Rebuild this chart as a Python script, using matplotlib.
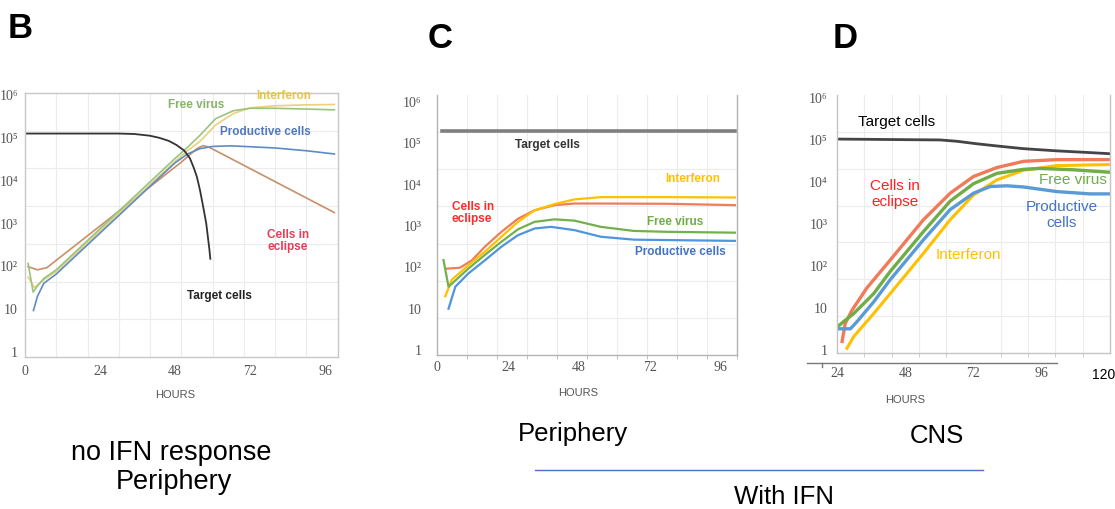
import numpy as np
import matplotlib.pyplot as plt
from matplotlib.lines import Line2D

# ---- data (hours, cell / particle counts) ----
# Panel B: no IFN response, periphery
b_target_h = [0, 10, 20, 30, 35, 40, 43, 46, 48.5, 51, 52.8, 54, 55, 56, 57, 58, 59, 59.3]
b_target_v = [1.26e5, 1.26e5, 1.26e5, 1.26e5, 1.23e5, 1.12e5, 1.0e5, 8.5e4, 6.8e4, 5.0e4,
              3.3e4, 2.0e4, 1.23e4, 6.0e3, 2.5e3, 1.0e3, 250, 150]
b_eclipse_h = [1, 4, 7, 50, 55, 57, 59, 99]
b_eclipse_v = [98, 83, 93, 2.7e4, 5.6e4, 6.6e4, 6.0e4, 1.8e3]
b_virus_h = [1, 2.6, 4, 6, 10, 48, 52, 56, 61, 66.7, 72, 80, 90, 99]
b_virus_v = [117, 25, 35, 52, 83, 3.3e4, 6.0e4, 1.15e5, 2.8e5, 4.3e5, 4.9e5, 4.9e5, 4.7e5, 4.5e5]
b_ifn_h = [1, 3, 6, 10, 48, 52, 56, 61, 66.7, 72, 80, 90, 99]
b_ifn_v = [56, 32, 48, 76, 2.8e4, 5.0e4, 8.3e4, 2.0e5, 3.7e5, 5.0e5, 5.6e5, 5.9e5, 6.0e5]
b_prod_h = [2.7, 4, 6, 10, 48, 52, 56, 60, 66, 72, 80, 90, 99]
b_prod_v = [9.3, 20, 40, 66, 2.6e4, 4.2e4, 5.6e4, 6.3e4, 6.5e4, 6.2e4, 5.8e4, 5.0e4, 4.2e4]

# Panel C: with IFN, periphery
c_target_h = [1.7, 100.8]
c_target_v = [2.0e5, 2.0e5]
c_eclipse_h = [3.4, 7.8, 11.8, 16.2, 21.8, 27.4, 33, 39.8, 46.5, 55.4, 77.8, 100.8]
c_eclipse_v = [93, 98, 148, 316, 724, 1.5e3, 2.4e3, 3.2e3, 3.5e3, 3.5e3, 3.45e3, 3.2e3]
c_ifn_h = [2.8, 5.0, 10.6, 16.2, 21.8, 27.4, 33, 39.8, 46.5, 55.4, 77.8, 100.8]
c_ifn_v = [20, 50, 112, 240, 550, 1.26e3, 2.4e3, 3.4e3, 4.4e3, 5.0e3, 5.0e3, 4.9e3]
c_virus_h = [2.2, 3.9, 10.6, 16.2, 21.8, 27.4, 33, 39.8, 46.5, 55.4, 66.6, 77.8, 100.8]
c_virus_v = [150, 34, 93, 200, 417, 832, 1.26e3, 1.45e3, 1.35e3, 955, 760, 724, 690]
c_prod_h = [3.9, 6.2, 10.6, 16.2, 21.8, 27.4, 33, 38.6, 46.5, 55.4, 66.6, 77.8, 100.8]
c_prod_v = [10, 34, 71, 148, 316, 600, 870, 955, 795, 550, 468, 457, 437]

# Panel D: with IFN, CNS
d_target_h = [24, 60.3, 66.2, 73.2, 80.2, 89.6, 101.3, 113, 120]
d_target_v = [1.05e5, 1.0e5, 9.3e4, 8.1e4, 7.2e4, 6.2e4, 5.5e4, 5.0e4, 4.7e4]
d_eclipse_h = [25.8, 26.9, 29.3, 34.5, 42.7, 54.4, 63.8, 72, 80.2, 89.6, 101.3, 120]
d_eclipse_v = [1.6, 4.3, 8.9, 30, 138, 1.26e3, 5.4e3, 1.35e4, 2.2e4, 3.1e4, 3.4e4, 3.4e4]
d_virus_h = [24, 26.9, 29.9, 36.9, 42.7, 54.4, 63.8, 72, 80.2, 89.6, 95.4, 107.1, 120]
d_virus_v = [3.5, 5.1, 7.4, 22, 74, 660, 3.5e3, 9.1e3, 1.6e4, 2.0e4, 2.1e4, 1.95e4, 1.7e4]
d_prod_h = [24, 28.7, 31, 36.9, 42.7, 54.4, 63.8, 72, 77.9, 83.7, 89.6, 101.3, 113, 120]
d_prod_v = [3.2, 3.2, 4.7, 14, 47, 420, 2.2e3, 5.4e3, 7.8e3, 8.1e3, 7.6e3, 5.9e3, 5.2e3, 5.2e3]
d_ifn_h = [27.5, 29.9, 36.9, 42.7, 54.4, 63.8, 72, 80.2, 89.6, 101.3, 120]
d_ifn_v = [1.1, 2.1, 7.4, 22, 200, 1.26e3, 4.9e3, 1.12e4, 1.9e4, 2.45e4, 2.6e4]

ytick_vals = [1, 10, 1e2, 1e3, 1e4, 1e5, 1e6]
ytick_text = ['1', '10', '10²', '10³', '10⁴', '10⁵', '10⁶']

W, H = 1115, 509
SERIF = ['Liberation Serif', 'DejaVu Serif']
SANS = ['Liberation Sans', 'DejaVu Sans']


def fx(px):
    return px / W


def fy(py):
    return 1 - py / H


def make_axes(left, right, top, bottom):
    return fig.add_axes([fx(left), fy(bottom), fx(right) - fx(left), fy(top) - fy(bottom)])


def style_axes(ax, xlim, ylim, xticks, xlabels, xpad, ypad, frame_col, minor_ticks):
    ax.set_yscale('log')
    ax.set_xlim(*xlim)
    ax.set_ylim(*ylim)
    ax.set_xticks(xticks)
    ax.set_xticklabels(xlabels)
    ax.set_yticks(ytick_vals)
    ax.set_yticklabels(ytick_text)
    ax.yaxis.set_minor_locator(plt.NullLocator())
    ax.set_xticks(np.linspace(xlim[0], xlim[1], 11), minor=True)
    ax.tick_params(axis='both', which='major', length=0, colors='#555555', labelsize=10)
    ax.tick_params(axis='x', which='major', pad=xpad)
    ax.tick_params(axis='y', which='major', pad=ypad)
    ax.tick_params(axis='x', which='minor', length=3 if minor_ticks else 0, color=frame_col)
    for lab in ax.get_xticklabels() + ax.get_yticklabels():
        lab.set_family(SERIF)
    ax.grid(True, axis='x', which='minor', color='#ececec', lw=0.8)
    for k in range(1, 7):
        ax.plot([0, 1], [k / 7, k / 7], transform=ax.transAxes, color='#ececec', lw=0.8, zorder=0)
    for s in ax.spines.values():
        s.set_color(frame_col)
        s.set_linewidth(1.0)


fig = plt.figure(figsize=(W / 100, H / 100), dpi=100)

# ---------------- Panel B ----------------
axB = make_axes(25, 337.5, 93, 357)
style_axes(axB, (0, 100), (10 ** -0.117, 10 ** 6.047), [0, 24, 48, 72, 96],
           ['0', '24', '48', '72', '96'], 6, 5, '#c8c8c8', False)
axB.plot(b_eclipse_h, b_eclipse_v, color='#c98f6b', lw=1.2)
axB.plot(b_ifn_h, b_ifn_v, color='#e9d27a', lw=1.2)
axB.plot(b_virus_h, b_virus_v, color='#9cc37e', lw=1.2)
axB.plot(b_prod_h, b_prod_v, color='#5d8cc4', lw=1.2)
axB.plot(b_target_h, b_target_v, color='#333333', lw=1.3)

lab_kw = dict(fontsize=8.5, fontweight='bold', family=SANS)
fig.text(fx(196), fy(105), 'Free virus', color='#86b36a', ha='center', va='center', **lab_kw)
fig.text(fx(284), fy(96), 'Interferon', color='#e6c645', ha='center', va='center', **lab_kw)
fig.text(fx(265), fy(132), 'Productive cells', color='#5077c4', ha='center', va='center', **lab_kw)
fig.text(fx(288), fy(241), 'Cells in\neclipse', color='#e0405a', ha='center', va='center',
         linespacing=1.1, **lab_kw)
fig.text(fx(219), fy(296), 'Target cells', color='#222222', ha='center', va='center', **lab_kw)
fig.text(fx(175), fy(395), 'HOURS', color='#555555', ha='center', va='center', fontsize=8, family=SANS)

# ---------------- Panel C ----------------
axC = make_axes(437, 737, 95, 355)
style_axes(axC, (0, 101.5), (10 ** -0.121, 10 ** 6.17), [0, 24, 48, 72, 96],
           ['0', '24', '48', '72', '96'], 4.5, 11, '#b4b4b4', True)
axC.spines['top'].set_visible(False)
axC.plot(c_target_h, c_target_v, color='#7f7f7f', lw=2.6)
axC.plot(c_eclipse_h, c_eclipse_v, color='#ee7d5c', lw=1.6)
axC.plot(c_ifn_h, c_ifn_v, color='#ffc000', lw=1.6)
axC.plot(c_virus_h, c_virus_v, color='#72b04a', lw=1.6)
axC.plot(c_prod_h, c_prod_v, color='#4d95df', lw=1.6)

fig.text(fx(547), fy(145), 'Target cells', color='#333333', ha='center', va='center', **lab_kw)
fig.text(fx(693), fy(179), 'Interferon', color='#ffc000', ha='center', va='center', **lab_kw)
fig.text(fx(452), fy(213), 'Cells in\neclipse', color='#ff2b2b', ha='left', va='center',
         linespacing=1.1, **lab_kw)
fig.text(fx(675), fy(222), 'Free virus', color='#70ad47', ha='center', va='center', **lab_kw)
fig.text(fx(680), fy(252), 'Productive cells', color='#4472c4', ha='center', va='center', **lab_kw)
fig.text(fx(578), fy(393), 'HOURS', color='#555555', ha='center', va='center', fontsize=8, family=SANS)

# ---------------- Panel D ----------------
axD = make_axes(837, 1110, 95, 353)
style_axes(axD, (24, 120), (10 ** -0.071, 10 ** 6.07), [24, 48, 72, 96, 120],
           ['24', '48', '72', '96', ''], 10, 7, '#c4c4c4', True)
axD.spines['top'].set_visible(False)
# the last tick label is set in a different font in the reference
fig.text(fx(1104), fy(375), '120', color='black', ha='center', va='center', fontsize=10, family=SANS)
axD.plot(d_target_h, d_target_v, color='#444444', lw=2.0)
axD.plot(d_eclipse_h, d_eclipse_v, color='#f07a5a', lw=2.4)
axD.plot(d_ifn_h, d_ifn_v, color='#ffc000', lw=2.2)
axD.plot(d_virus_h, d_virus_v, color='#70ad47', lw=2.4)
axD.plot(d_prod_h, d_prod_v, color='#5b9bd5', lw=2.4)

lab_d = dict(fontsize=11, family=SANS)
fig.text(fx(897), fy(122), 'Target cells', color='black', ha='center', va='center', **lab_d)
fig.text(fx(895), fy(194), 'Cells in\neclipse', color='#ff2020', ha='center', va='center',
         linespacing=1.1, **lab_d)
fig.text(fx(1073), fy(180), 'Free virus', color='#70ad47', ha='center', va='center', **lab_d)
fig.text(fx(1062), fy(215), 'Productive\ncells', color='#4472c4', ha='center', va='center',
         linespacing=1.1, **lab_d)
fig.text(fx(968), fy(255), 'Interferon', color='#ffc000', ha='center', va='center', **lab_d)
fig.text(fx(905), fy(400), 'HOURS', color='#555555', ha='center', va='center', fontsize=8, family=SANS)
fig.add_artist(Line2D([fx(807), fx(1057)], [fy(363), fy(363)], color='#777777', lw=1.0))
fig.add_artist(Line2D([fx(822), fx(822)], [fy(363), fy(367)], color='#777777', lw=1.0))

# ---------------- panel letters and captions ----------------
let_kw = dict(fontsize=25, fontweight='bold', family=SANS, ha='left', va='baseline')
fig.text(fx(8), fy(38), 'B', **let_kw)
fig.text(fx(428), fy(48), 'C', **let_kw)
fig.text(fx(833), fy(48), 'D', **let_kw)

cap = dict(family=SANS, ha='center', va='center', color='black')
fig.text(fx(171), fy(453), 'no IFN response', fontsize=19.5, **cap)
fig.text(fx(174), fy(482), 'Periphery', fontsize=19.5, **cap)
fig.text(fx(573), fy(434), 'Periphery', fontsize=18.5, **cap)
fig.text(fx(937), fy(436), 'CNS', fontsize=18.5, **cap)
fig.text(fx(784), fy(497), 'With IFN', fontsize=18.5, **cap)
fig.add_artist(Line2D([fx(535), fx(983)], [fy(470), fy(470)], color='#4472c4', lw=1.0))

fig.savefig('out.png', dpi=100)
